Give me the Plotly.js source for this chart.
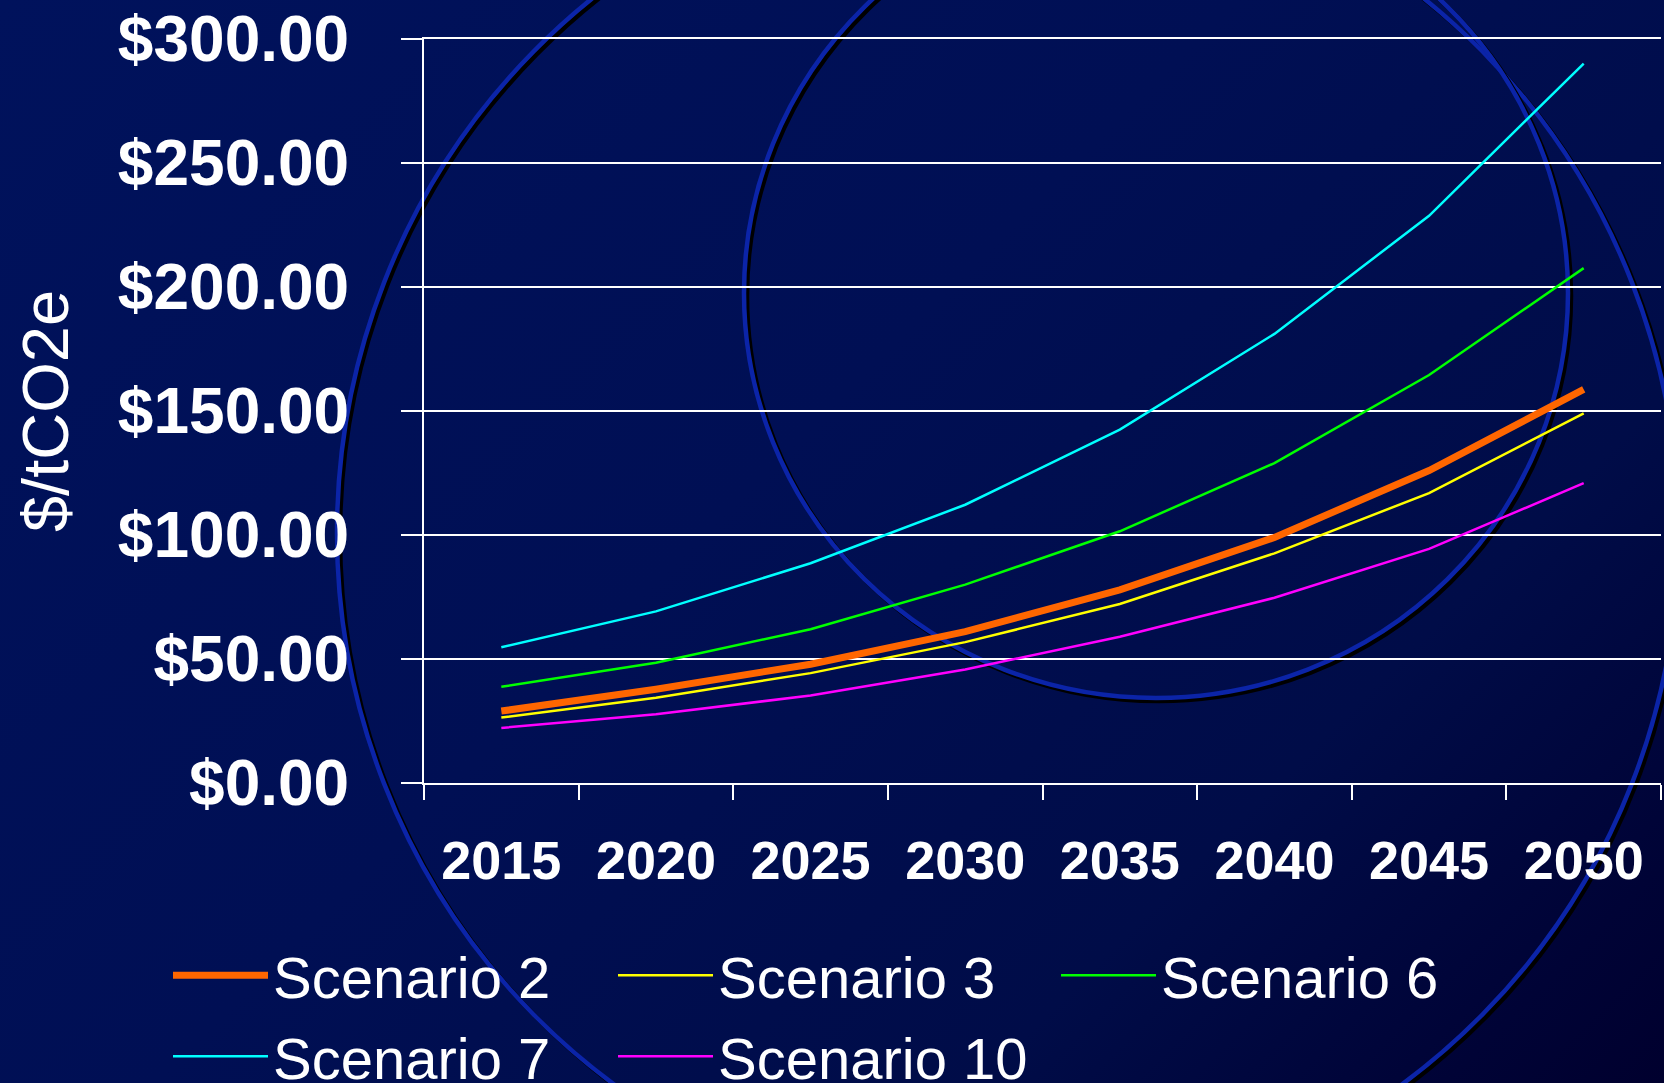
<!DOCTYPE html>
<html>
<head>
<meta charset="utf-8">
<script src="https://cdn.plot.ly/plotly-3.0.1.min.js"></script>
<style>
html, body { margin: 0; padding: 0; background: #000f52; }
#chart {
  width: 1664px; height: 1083px;
  background: linear-gradient(135deg, #00125c 0%, #000f54 45%, #000c48 75%, #000336 92%, #00002e 100%);
}
</style>
</head>
<body>
<div id="chart"></div>
<script>
// ---- data ----
const years = ['2015', '2020', '2025', '2030', '2035', '2040', '2045', '2050'];
const scenarioNames = ['Scenario 2', 'Scenario 3', 'Scenario 6', 'Scenario 7', 'Scenario 10'];
const scenario2  = [29.0, 37.8, 47.9, 61.0, 77.9, 99.0, 126.0, 158.7];
const scenario3  = [26.4, 34.4, 44.3, 56.8, 72.2, 92.6, 116.9, 149.0];
const scenario6  = [38.8, 48.5, 62.0, 80.0, 101.5, 129.0, 164.5, 207.6];
const scenario7  = [54.7, 69.2, 88.6, 112.2, 142.5, 181.1, 228.7, 290.1];
const scenario10 = [22.2, 27.7, 35.3, 45.8, 59.0, 74.7, 94.4, 120.9];
const yTickVals  = [0, 50, 100, 150, 200, 250, 300];
const yTickText  = yTickVals.map(v => '$' + v.toFixed(2));

// ---- styles ----
const seriesValues = [scenario2, scenario3, scenario6, scenario7, scenario10];
const seriesColors = ['#ff6600', '#ffff00', '#00ff00', '#00ffff', '#ff00ff'];
const seriesWidths = [7, 2.5, 2.5, 2.5, 2.5];
// legend grid: 3 columns, 2 rows (pixel left edge of each column, top of each row)
const legendColLeft = [168, 613, 1056];
const legendRowTop  = [931, 1012];

const W = 1664, H = 1083;
const M = { l: 424, r: 3, t: 39, b: 300 };
const PW = W - M.l - M.r, PH = H - M.t - M.b;
const px2x = p => (p - M.l) / PW;
const px2y = p => (H - M.b - p) / PH;

const legendIds = seriesValues.map((_, i) => i === 0 ? 'legend' : 'legend' + (i + 1));

const traces = seriesValues.map((vals, i) => ({
  type: 'scatter',
  mode: 'lines',
  name: scenarioNames[i],
  x: years,
  y: vals,
  line: { color: seriesColors[i], width: seriesWidths[i] },
  legend: legendIds[i],
  hoverinfo: 'x+y+name'
}));

// decorative background rings of the slide template
function ring(cx, cy, rx, ry, color, width, dx, dy) {
  return {
    type: 'circle', xref: 'paper', yref: 'paper', layer: 'below',
    x0: px2x(cx - rx + dx), x1: px2x(cx + rx + dx),
    y0: px2y(cy + ry + dy), y1: px2y(cy - ry + dy),
    line: { color: color, width: width }, fillcolor: 'rgba(0,0,0,0)'
  };
}
const shapes = [
  ring(1008, 533, 671, 681, '#000000', 4.5, 3, 3),
  ring(1008, 533, 671, 681, '#0b24a8', 4.5, 0, 0),
  ring(1156, 293, 412, 405, '#000000', 4.5, 3, 3),
  ring(1156, 293, 412, 405, '#0b24a8', 4.5, 0, 0)
];

const FONT = 'Liberation Sans, Arial, Helvetica, sans-serif';

const layout = {
  width: W, height: H,
  margin: M,
  paper_bgcolor: 'rgba(0,0,0,0)',
  plot_bgcolor: 'rgba(0,0,0,0)',
  showlegend: true,
  shapes: shapes,
  font: { family: FONT, color: '#ffffff' },
  xaxis: {
    type: 'category',
    range: [-0.5, years.length - 0.5],
    tickson: 'boundaries',
    ticks: 'outside', ticklen: 15, tickwidth: 2, tickcolor: '#ffffff',
    showgrid: false, zeroline: false,
    showline: true, mirror: true, linecolor: '#ffffff', linewidth: 2,
    ticklabelstandoff: 29,
    tickfont: { family: FONT, size: 54, color: '#ffffff', weight: 'bold' },
    fixedrange: true
  },
  yaxis: {
    range: [0, 300],
    tickvals: yTickVals,
    ticktext: yTickText,
    ticks: 'outside', ticklen: 21, tickwidth: 2, tickcolor: '#ffffff',
    showgrid: true, gridcolor: '#ffffff', gridwidth: 2,
    zeroline: false,
    showline: true, linecolor: '#ffffff', linewidth: 2,
    ticklabelstandoff: 39,
    tickfont: { family: FONT, size: 64, color: '#ffffff', weight: 'bold' },
    title: { text: '$/tCO2e', font: { family: FONT, size: 65, color: '#ffffff' }, standoff: 28 },
    fixedrange: true
  }
};

// one legend box per entry so the 3-column, 2-row grid matches the reference
legendIds.forEach((id, i) => {
  const col = i % 3, row = Math.floor(i / 3);
  layout[id] = {
    orientation: 'h',
    xref: 'container', x: legendColLeft[col] / W, xanchor: 'left',
    yref: 'container', y: 1 - legendRowTop[row] / H, yanchor: 'top',
    bgcolor: 'rgba(0,0,0,0)',
    font: { family: FONT, size: 58, color: '#ffffff' },
    itemwidth: 95
  };
});

Plotly.newPlot('chart', traces, layout, { displayModeBar: false });
</script>
</body>
</html>
